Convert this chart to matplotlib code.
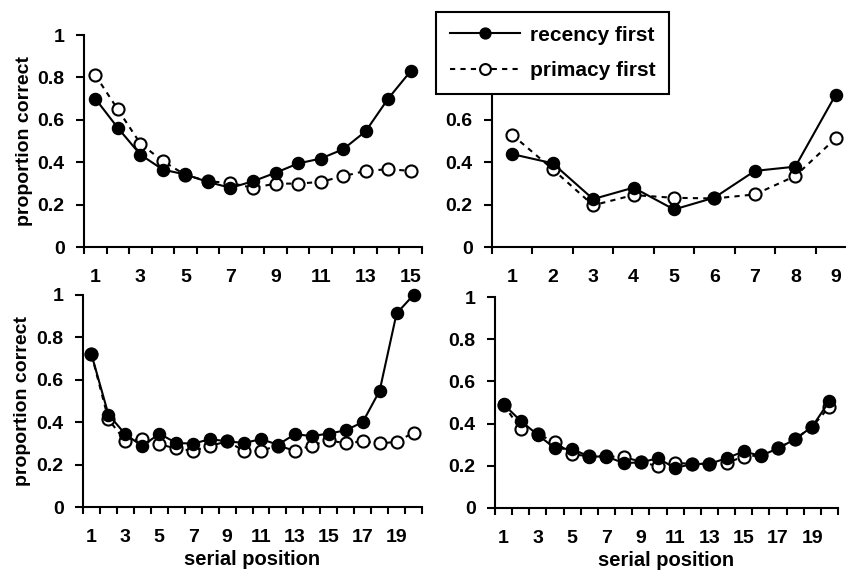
import matplotlib
matplotlib.use("Agg")
import matplotlib.pyplot as plt

plt.rcParams["font.family"] = ["Liberation Sans", "DejaVu Sans"]
plt.rcParams["font.weight"] = "bold"

# panel A: 15 items
rec_15 = [0.70, 0.562, 0.436, 0.365, 0.342, 0.307, 0.279, 0.31, 0.35, 0.394, 0.417, 0.461, 0.546, 0.70, 0.83]
pri_15 = [0.811, 0.649, 0.488, 0.405, 0.34, 0.31, 0.302, 0.279, 0.299, 0.299, 0.307, 0.334, 0.359, 0.367, 0.359]

# panel B: 9 items
rec_9 = [0.438, 0.395, 0.226, 0.28, 0.177, 0.233, 0.359, 0.379, 0.719]
pri_9 = [0.529, 0.367, 0.197, 0.245, 0.232, 0.229, 0.248, 0.335, 0.513]

# panel C: 20 items
rec_20a = [0.72, 0.436, 0.343, 0.287, 0.346, 0.302, 0.299, 0.32, 0.31, 0.302,
           0.32, 0.294, 0.343, 0.335, 0.346, 0.362, 0.40, 0.548, 0.913, 1.0]
pri_20a = [0.72, 0.413, 0.312, 0.32, 0.296, 0.276, 0.265, 0.288, 0.31, 0.265,
           0.265, 0.29, 0.265, 0.29, 0.315, 0.30, 0.31, 0.30, 0.307, 0.351]

# panel D: 20 items
rec_20b = [0.491, 0.413, 0.346, 0.283, 0.279, 0.244, 0.244, 0.213, 0.216, 0.236,
           0.189, 0.209, 0.209, 0.236, 0.268, 0.247, 0.283, 0.326, 0.386, 0.507]
pri_20b = [0.49, 0.373, 0.35, 0.312, 0.255, 0.245, 0.245, 0.241, 0.22, 0.197,
           0.213, 0.21, 0.21, 0.213, 0.244, 0.25, 0.283, 0.326, 0.386, 0.48]

y_ticks = [0, 0.2, 0.4, 0.6, 0.8, 1]
y_labels = ["0", "0.2", "0.4", "0.6", "0.8", "1"]

W, H = 846, 574
FS = 14

fig = plt.figure(figsize=(W / 100, H / 100), dpi=100)


def px_axes(left, right, top, bottom):
    return fig.add_axes([left / W, 1 - bottom / H, (right - left) / W, (bottom - top) / H])


def draw_panel(ax, rec, pri, lbl_step, ylab, xlab):
    n = len(rec)
    pos = list(range(1, n + 1))
    l_pri, = ax.plot(pos, pri, color="black", lw=1.5, linestyle=(0, (2.5, 2.5)),
                     marker="o", ms=8.7, mfc="white", mec="black", mew=1.5, zorder=3, clip_on=False)
    l_rec, = ax.plot(pos, rec, color="black", lw=1.5, linestyle="-",
                     marker="o", ms=8.7, mfc="black", mec="black", zorder=4, clip_on=False)
    ax.set_xlim(0.5, n + 0.5)
    ax.set_ylim(0, 1)
    ax.spines["top"].set_visible(False)
    ax.spines["right"].set_visible(False)
    for s in ["left", "bottom"]:
        ax.spines[s].set_linewidth(1.5)
    # Excel style category ticks between items
    ax.set_xticks([i + 0.5 for i in range(0, n + 1)])
    ax.set_xticklabels([])
    ax.set_xticks(pos[::lbl_step], minor=True)
    ax.set_xticklabels([str(p) for p in pos[::lbl_step]], minor=True)
    ax.tick_params(axis="x", which="major", direction="out", length=5, width=1.5)
    ax.tick_params(axis="x", which="minor", length=0, pad=16, labelsize=FS)
    ax.set_yticks(y_ticks)
    ax.set_yticklabels(y_labels)
    ax.tick_params(axis="y", direction="out", length=6, width=1.5, pad=8, labelsize=FS)
    for t in ax.get_xticklabels(minor=True) + ax.get_yticklabels():
        t.set_fontweight("bold")
    if ylab:
        ax.set_ylabel("proportion correct", fontsize=FS, fontweight="bold")
        ax.yaxis.set_label_coords(-0.152, 0.5)
    if xlab:
        ax.set_xlabel("serial position", fontsize=FS + 0.5, fontweight="bold")
        ax.xaxis.set_label_coords(0.5, -0.205)
    return l_rec, l_pri


ax1 = px_axes(84, 422, 35, 247)
ax2 = px_axes(492, 856, 35, 247)
ax3 = px_axes(83, 422, 295, 507)
ax4 = px_axes(495, 838, 297, 508)

h_rec, h_pri = draw_panel(ax1, rec_15, pri_15, 2, True, False)
draw_panel(ax2, rec_9, pri_9, 1, False, False)
draw_panel(ax3, rec_20a, pri_20a, 2, True, True)
draw_panel(ax4, rec_20b, pri_20b, 2, False, True)

leg = fig.legend([h_rec, h_pri], ["recency first", "primacy first"],
                 loc="upper left", bbox_to_anchor=(436 / W, 1 - 12 / H),
                 fontsize=15, frameon=True, fancybox=False, shadow=False,
                 handlelength=3.4, handletextpad=0.45, borderpad=0.65,
                 labelspacing=0.8, borderaxespad=0, markerscale=0.9)
leg.get_frame().set_edgecolor("black")
leg.get_frame().set_linewidth(1.5)
leg.get_frame().set_alpha(1)
leg.set_zorder(10)
for t in leg.get_texts():
    t.set_fontweight("bold")

fig.savefig("out.png", dpi=100)
